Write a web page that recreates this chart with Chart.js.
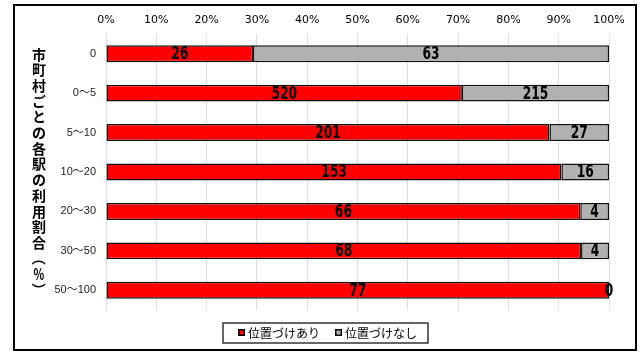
<!DOCTYPE html>
<html>
<head>
<meta charset="utf-8">
<script src="https://cdn.jsdelivr.net/npm/chart.js@4"></script>
<style>
  html, body { margin: 0; padding: 0; background: #fff; }
  #wrap { width: 640px; height: 352px; }
</style>
</head>
<body>
<div id="wrap"><canvas id="stationChart" width="640" height="352"></canvas></div>
<script>
// values
const categories = ['0', '0～5', '5～10', '10～20', '20～30', '30～50', '50～100'];
const withPlan = [26, 520, 201, 153, 66, 68, 77];
const withoutPlan = [63, 215, 27, 16, 4, 4, 0];
const seriesNames = ['位置づけあり', '位置づけなし'];
const axisTitle = '市町村ごとの各駅の利用割合（%）';

const counts = [withPlan, withoutPlan];
const totals = withPlan.map((v, i) => v + withoutPlan[i]);
const share = arr => arr.map((v, i) => v / totals[i] * 100);

const RED = '#ff0000';
const GRAY = '#b3b0b0';

// frame round the whole chart
const framePlugin = {
    id: 'frame',
    beforeDraw(chart) {
        const ctx = chart.ctx;
        ctx.save();
        ctx.fillStyle = '#fff';
        ctx.fillRect(0, 0, chart.width, chart.height);
        ctx.strokeStyle = '#000';
        ctx.lineWidth = 2;
        ctx.strokeRect(14, 5, 622, 345);
        ctx.restore();
    }
};

// counts written in the middle of each segment
const countLabels = {
    id: 'countLabels',
    afterDatasetsDraw(chart) {
        const ctx = chart.ctx;
        ctx.save();
        ctx.fillStyle = '#000';
        ctx.font = 'bold 17px "DejaVu Sans"';
        ctx.textAlign = 'center';
        ctx.textBaseline = 'middle';
        chart.data.datasets.forEach((ds, di) => {
            const meta = chart.getDatasetMeta(di);
            meta.data.forEach((bar, i) => {
                const p = bar.getProps(['x', 'y', 'base'], true);
                const cx = (p.x + p.base) / 2;
                ctx.save();
                ctx.translate(cx, p.y + 1);
                ctx.scale(0.72, 1);
                ctx.fillText(String(counts[di][i]), 0, 0);
                ctx.restore();
            });
        });
        ctx.restore();
    }
};

// vertical axis title, one character under another
const verticalTitle = {
    id: 'verticalTitle',
    afterDraw(chart) {
        const ctx = chart.ctx;
        const area = chart.chartArea;
        const chars = Array.from(axisTitle);
        const step = 15.7;
        const startY = (area.top + area.bottom) / 2 - step * (chars.length - 1) / 2;
        ctx.save();
        ctx.fillStyle = '#000';
        ctx.font = 'bold 14px "Noto Sans CJK JP"';
        ctx.textAlign = 'center';
        ctx.textBaseline = 'middle';
        chars.forEach((c, i) => {
            const y = startY + i * step;
            ctx.save();
            ctx.translate(39, y);
            if (c === '（' || c === '）') ctx.rotate(Math.PI / 2);
            if (c === '%') ctx.scale(0.8, 1.1);
            ctx.fillText(c, 0, 0);
            ctx.restore();
        });
        ctx.restore();
    }
};

// legend in a box under the plot
const boxLegend = {
    id: 'boxLegend',
    afterDraw(chart) {
        const ctx = chart.ctx;
        const boxX = 223, boxY = 323, boxW = 205, boxH = 20;
        ctx.save();
        ctx.strokeStyle = '#333';
        ctx.lineWidth = 1.5;
        ctx.strokeRect(boxX, boxY, boxW, boxH);
        ctx.font = '12px "Noto Sans CJK JP"';
        ctx.textBaseline = 'middle';
        ctx.fillStyle = '#000';
        const starts = [238, 335];
        chart.data.datasets.forEach((ds, i) => {
            const sx = starts[i];
            const cy = boxY + boxH / 2;
            ctx.fillStyle = '#000';
            ctx.fillRect(sx, cy - 4, 7, 7);
            ctx.fillStyle = ds.backgroundColor;
            ctx.fillRect(sx + 1.5, cy - 2.5, 4, 4);
            ctx.fillStyle = '#000';
            ctx.fillText(ds.label, sx + 10, cy);
        });
        ctx.restore();
    }
};

new Chart(document.getElementById('stationChart'), {
    type: 'bar',
    data: {
        labels: categories,
        datasets: [
            {
                label: seriesNames[0],
                data: share(withPlan),
                backgroundColor: RED,
                borderColor: '#111',
                borderWidth: 1.5,
                borderSkipped: false,
                barPercentage: 0.43,
                categoryPercentage: 1
            },
            {
                label: seriesNames[1],
                data: share(withoutPlan),
                backgroundColor: GRAY,
                borderColor: '#111',
                borderWidth: 1.5,
                borderSkipped: false,
                barPercentage: 0.43,
                categoryPercentage: 1
            }
        ]
    },
    options: {
        indexAxis: 'y',
        responsive: false,
        animation: false,
        events: [],
        layout: { padding: { left: 48, top: 10, right: 31, bottom: 42 } },
        plugins: {
            legend: { display: false },
            tooltip: { enabled: false }
        },
        scales: {
            x: {
                position: 'top',
                stacked: true,
                min: 0,
                max: 100,
                border: { display: false },
                grid: { color: '#dcdcdc', lineWidth: 1, drawTicks: false },
                ticks: {
                    stepSize: 10,
                    padding: 7,
                    color: '#000',
                    font: { family: 'DejaVu Sans', size: 11 },
                    callback: v => v + '%'
                },
                afterFit(scale) { scale.height = 24; }
            },
            y: {
                stacked: true,
                border: { display: false },
                grid: { display: false, drawTicks: false },
                ticks: {
                    padding: 10,
                    color: '#222',
                    font: { family: '"Liberation Sans", "Noto Sans CJK JP"', size: 11 }
                },
                afterFit(scale) { scale.width = 58; }
            }
        }
    },
    plugins: [framePlugin, countLabels, verticalTitle, boxLegend]
});
</script>
</body>
</html>
